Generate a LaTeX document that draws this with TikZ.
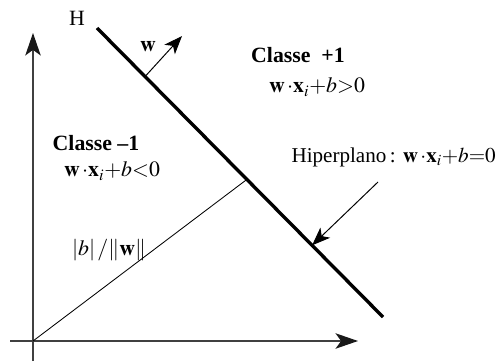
\documentclass[tikz,border=0pt]{standalone}
\usepackage{mathptmx}
\usepackage{fontspec}
\setmainfont{Liberation Serif}
\usetikzlibrary{arrows.meta,positioning,calc}

\begin{document}
\begin{tikzpicture}[x=0.025cm,y=-0.025cm,font=\fontsize{15.5}{18}\selectfont,
  axis/.style={draw=black!75,line width=0.9pt,-{Stealth[length=16pt,width=11pt,inset=4pt,black!90]}},
  pointer/.style={line width=0.7pt,-{Stealth[length=13pt,width=10pt,inset=3.5pt]}},
  plane/.style={line width=2.4pt}]
\useasboundingbox (0,0) rectangle (498,361);
% axes
\coordinate (o) at (33,341);
\coordinate (ybot) at (33,361);
\coordinate (ytop) at (33,33);
\coordinate (xleft) at (10,341);
\coordinate (xright) at (358,341);
\draw[axis] (ybot) -- (ytop);
\draw[axis] (xleft) -- (xright);
% hyperplane
\coordinate (h1) at (97,28);
\coordinate (h2) at (383,317);
\draw[plane] (h1) -- (h2);
\node (hlab) at (77,18) {H};
% normal vector
\coordinate (wbase) at ($(h1)!0.168!(h2)$);
\coordinate (wtip) at (182,36);
\draw[pointer] (wbase) -- (wtip);
\node (wlab) at (148,47) {$\mathbf{w}$};
% distance from origin
\coordinate (foot) at ($(h1)!0.524!(h2)$);
\draw[line width=0.6pt] (o) -- (foot);
\node (dist) at (109,250) {$|b|\,/\|\mathbf{w}\|$};
% classes
\node (cneg) at (96,143) {\textbf{Classe \textendash1}};
\node (ineqneg) at (112,171) {$\mathbf{w}\,{\cdot}\mathbf{x}_i{+}b{<}0$};
\node (cpos) at (298,55) {\textbf{Classe\ \ +1}};
\node (ineqpos) at (317,87) {$\mathbf{w}\,{\cdot}\mathbf{x}_i{+}b{>}0$};
% hyperplane label
\node[anchor=east,inner sep=0pt,font=\fontsize{15}{18}\selectfont] (hip) at (496,157) {Hiperplano\,: $\mathbf{w}\,{\cdot}\mathbf{x}_i{+}b{=}0$};
\coordinate (hiptail) at (378,182);
\coordinate (hiphead) at ($(h1)!0.752!(h2)$);
\draw[pointer] (hiptail) -- (hiphead);
\end{tikzpicture}
\end{document}
